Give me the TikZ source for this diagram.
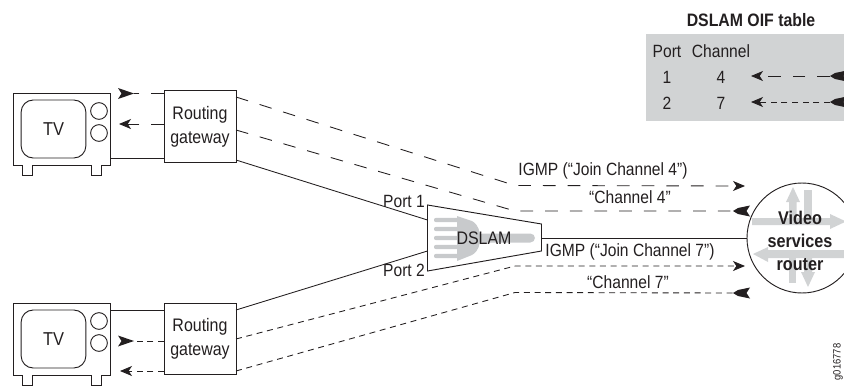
\documentclass[tikz,border=0pt]{standalone}
\usepackage{fontspec}
\setmainfont{Liberation Sans}[FakeStretch=0.88]
\usetikzlibrary{arrows.meta,calc}
\definecolor{tblgray}{HTML}{D1D3D4}
\definecolor{icongray}{HTML}{C8CACC}
\definecolor{ink}{HTML}{231F20}
\newcommand{\fs}[1]{\fontsize{#1}{#1}\selectfont}
\tikzset{
  x=0.75pt,y=-0.75pt,
  every node/.style={text=ink,inner sep=0pt,outer sep=0pt},
  box/.style={draw=ink,line width=0.7pt},
  gw/.style={draw=ink,line width=0.7pt,minimum width=54pt,minimum height=53.5pt,align=center,font=\fs{13.6},fill=white},
  lbl/.style={font=\fs{13.3},anchor=center},
  conn/.style={draw=ink,line width=0.65pt},
  longdash/.style={conn,dash pattern=on 9.5pt off 9pt},
  shortdash/.style={conn,dash pattern=on 4.5pt off 3.5pt},
  openhead/.style={-{Stealth[length=9pt,width=7.5pt,inset=2.5pt]}},
  icon/.style={draw=none,fill=icongray},
  fatr/.pic={\fill[ink] (0,0) -- (-16,-5.5) -- (-12.5,0) -- (-16,5.5) -- cycle;},
  fatl/.pic={\fill[ink] (0,0) -- (5,-3) -- (17,-5.5) -- (13.5,0) -- (17,5.5) -- (5,3) -- cycle;},
}
\newcommand{\tvset}[2]{% name, top y
  \begin{scope}[shift={(0,#2)}]
    \draw[box] (13,72.5) -- (22,72.5) -- (22,82.5) -- (32,82.5) -- (32,72.5) -- (91,72.5) -- (91,82.5) -- (101,82.5) -- (101,72.5) -- (110.5,72.5) -- (110.5,0) -- (13,0) -- cycle;
    \node[box,rounded corners=9pt,minimum width=48.5pt,minimum height=43.5pt] (#1) at (53.5,36) {\fs{14}TV};
    \node[box,circle,minimum size=12.5pt] (#1k1) at (99,18) {};
    \node[box,circle,minimum size=12.5pt] (#1k2) at (99,40) {};
  \end{scope}}
\begin{document}
\begin{tikzpicture}
\useasboundingbox (0,0) rectangle (844,386);
\clip (0,0) rectangle (844,386);
% table
\fill[tblgray] (646,34) rectangle (844,121);
\node[font=\fs{13.5}\bfseries] (title) at (751,20.5) {DSLAM OIF table};
\node[lbl] (tp) at (667,51) {Port};
\node[lbl] (tc) at (721,51) {Channel};
\node[lbl] (t1) at (667,77) {1};
\node[lbl] (t4) at (721,77) {4};
\node[lbl] (t2) at (667,103) {2};
\node[lbl] (t7) at (721,103) {7};
\coordinate (a1) at (751,76); \coordinate (a1r) at (830,76);
\coordinate (a2) at (751,102); \coordinate (a2r) at (830,102);
\draw[longdash,openhead] (a1r) -- (a1);
\draw[shortdash,openhead] (a2r) -- (a2);
\path (a1r) pic {fatl};
\path (a2r) pic {fatl};
% TVs
\tvset{tvA}{93}
\tvset{tvB}{303}
\node[gw] (gwA) at (200,126.5) {Routing\\[4.5pt]gateway};
\node[gw] (gwB) at (200,339) {Routing\\[4.5pt]gateway};
% DSLAM
\coordinate (d1) at (427.5,205); \coordinate (d2) at (541.5,224);
\coordinate (d3) at (541.5,251); \coordinate (d4) at (427.5,271);
\draw[box] (d1) -- (d2) -- (d3) -- (d4) -- cycle;
\foreach \yy in {220,229,238,247,256}
  \fill[icon,rounded corners=1.5pt] (434,\yy-2.2) rectangle (460,\yy+2.2);
\fill[icon] (457,216) -- (472,221) .. controls (479,225) and (480,232) .. (480,238) .. controls (480,244) and (479,251) .. (472,255) -- (457,261) -- cycle;
\fill[icon,rounded corners=3.5pt] (478,233.5) rectangle (535,242.5);
\node[font=\fs{13.6}] (dslam) at (484,238) {DSLAM};
\node[lbl] (port1) at (404,201) {Port 1};
\node[lbl] (port2) at (404,270) {Port 2};
% router
\node[draw=ink,line width=0.7pt,circle,minimum size=82.5pt] (router) at (802,238) {};
\begin{scope}
\clip (router.center) circle (54.5);
\foreach \p in {
  {(752,218)--(830,218)--(830,214)--(846,221.5)--(830,229)--(830,225)--(752,225)},
  {(804,190)--(812,190)--(812,220)--(804,220)},
  {(789,222)--(789,202)--(786,202)--(793,187)--(800,202)--(796.5,202)--(796.5,222)},
  {(753,254)--(768,247)--(768,250)--(846,250)--(846,258)--(768,258)--(768,262)},
  {(789,250)--(796,250)--(796,283)--(789,283)},
  {(804,250)--(812,250)--(812,272)--(815,272)--(808,287)--(801,272)--(804,272)}
}{\fill[tblgray] \p -- cycle;}
\end{scope}
\node[font=\fs{13.8}\bfseries,align=center] (rlabel) at (800,241) {Video\\[3.2pt]services\\[3.2pt]router};
% solid connectors
\coordinate (pA) at (427.5,220); \coordinate (pB) at (427.5,251);
\draw[conn] (gwA.east |- 0,160) -- (pA);
\draw[conn] (gwB.east |- 0,310) -- (pB);
\draw[conn] (110.5,158.5) -- (164,158.5);
\draw[conn] (110.5,310) -- (164,310);
\draw[conn] (541.5,238) -- (router.west);
% dashed from gateway A
\coordinate (e1) at (515,185.5); \coordinate (e2) at (515,211);
\coordinate (h1) at (745,186); \coordinate (h2) at (733,211);
\draw[longdash,openhead] (gwA.east |- 0,97) -- (e1) -- (h1);
\draw[longdash] (gwA.east |- 0,130) -- (e2) -- (h2);
\path (h2) pic {fatl};
% dashed from gateway B
\coordinate (f1) at (515,266); \coordinate (f2) at (515,292.5);
\coordinate (k1) at (745,266); \coordinate (k2) at (733,293);
\draw[shortdash,openhead] (gwB.east |- 0,339) -- (f1) -- (k1);
\draw[shortdash] (gwB.east |- 0,371) -- (f2) -- (k2);
\path (k2) pic {fatl};
% TV stubs
\coordinate (s1) at (134,93.5); \coordinate (s2) at (119,124);
\coordinate (s3) at (134,341); \coordinate (s4) at (120,371);
\draw[longdash] (gwA.west |- 0,93.5) -- (s1);
\path (s1) pic {fatr};
\draw[longdash,openhead] (gwA.west |- 0,124) -- (s2);
\draw[shortdash] (gwB.west |- 0,341) -- (s3);
\path (s3) pic {fatr};
\draw[shortdash,openhead] (gwB.west |- 0,371) -- (s4);
% labels
\node[lbl] (l1) at (603,171) {IGMP (“Join Channel 4”)};
\node[lbl] (l2) at (630,197) {“Channel 4”};
\node[lbl] (l3) at (630,252) {IGMP (“Join Channel 7”)};
\node[lbl] (l4) at (628,282) {“Channel 7”};
\node[font=\fs{8},rotate=90] (fig) at (838,362) {g016778};
\end{tikzpicture}
\end{document}
